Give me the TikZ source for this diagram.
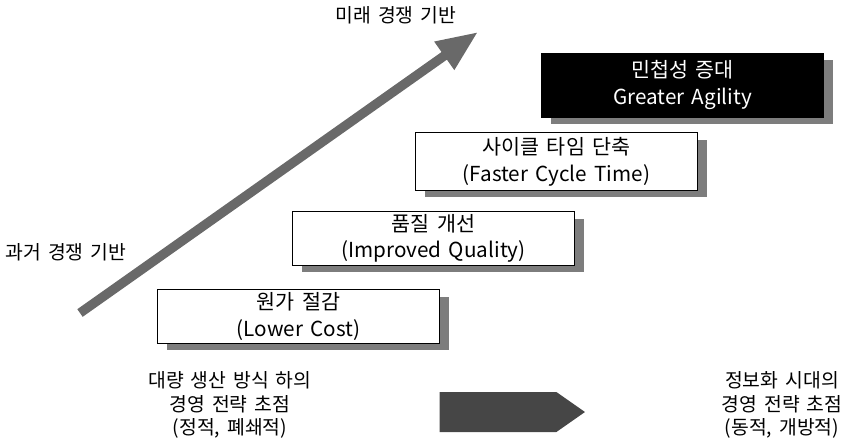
\documentclass[tikz,border=0pt]{standalone}
\usepackage{fontspec}
\setmainfont[WordSpace=1.6]{Noto Sans CJK KR}
\usepackage{tikz}
\usetikzlibrary{arrows.meta, shapes.arrows, shadows}
\usepackage{xcolor}
\definecolor{shadegray}{RGB}{125, 125, 125}
\definecolor{arrowgray}{RGB}{105, 105, 105}
\definecolor{darkshift}{RGB}{70, 70, 70}

\begin{document}
\begin{tikzpicture}[
  x=0.75pt, y=-0.75pt,
  stagebox/.style={rectangle, draw=black, line width=0.6pt, fill=white, inner sep=0pt,
    minimum width=212pt, align=center, font=\fontsize{15.5}{20}\selectfont,
    drop shadow={shadow xshift=7pt, shadow yshift=-5pt, fill=shadegray, opacity=1}},
  topbox/.style={stagebox, fill=black, text=white},
  caption/.style={align=center, font=\fontsize{14.5}{17.5}\selectfont},
  growth/.style={-{Triangle[length=31pt, width=24pt]}, line width=7pt, color=arrowgray},
  shiftarrow/.style={single arrow, single arrow head extend=0pt, single arrow tip angle=70,
    fill=darkshift, minimum height=109pt, minimum width=30pt, inner sep=0pt}
]
  \useasboundingbox (0,0) rectangle (849,446);

  \coordinate (tail) at (80,313);
  \coordinate (tip) at (478,32);
  \draw[growth] (tail) -- (tip);

  \node[caption] (future) at (396,15) {미래 경쟁 기반};
  \node[caption] (past) at (66,252) {과거 경쟁 기반};

  \node[stagebox, minimum height=40pt] (cost) at (298.5,316.5) {원가 절감\\(Lower Cost)};
  \node[stagebox, minimum height=40pt] (quality) at (433.5,238.5) {품질 개선\\(Improved Quality)};
  \node[stagebox, minimum height=43pt] (cycle) at (556.5,161.5) {사이클 타임 단축\\(Faster Cycle Time)};
  \node[topbox, minimum height=48pt] (agility) at (682.5,85) {민첩성 증대\\Greater Agility};

  \node[caption] (mass) at (230,405) {대량 생산 방식 하의\\경영 전략 초점\\(정적, 폐쇄적)};
  \node[shiftarrow] (shift) at (498,412) {};
  \node[caption] (info) at (782,405) {정보화 시대의\\경영 전략 초점\\(동적, 개방적)};
\end{tikzpicture}
\end{document}
